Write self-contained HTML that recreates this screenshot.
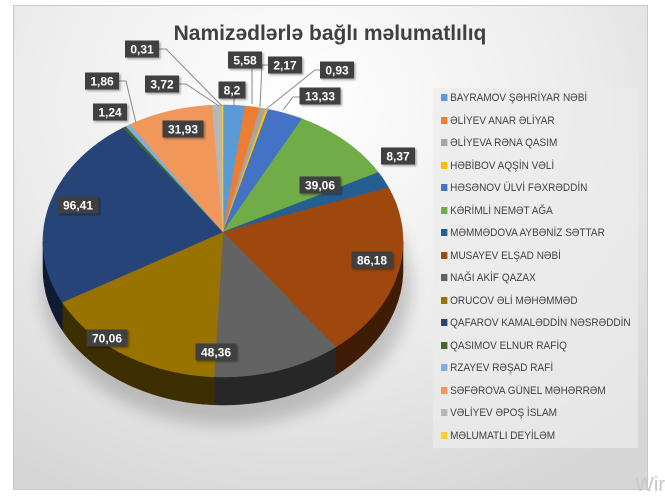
<!DOCTYPE html>
<html><head><meta charset="utf-8">
<style>
html,body{margin:0;padding:0;background:#fff;}
body{width:665px;height:498px;overflow:hidden;position:relative;font-family:"Liberation Sans",sans-serif;}
#chart{position:absolute;left:13px;top:5px;width:635px;height:485px;border:1px solid #c8c8c8;box-sizing:border-box;
background:radial-gradient(ellipse 80% 90% at 45% 20%,#ffffff 0%,#ececec 55%,#d6d6d6 100%);}
#legend{position:absolute;left:433px;top:88px;width:205px;height:360px;background:rgba(235,235,235,0.75);}
.li{position:absolute;left:8px;font-size:11px;color:#404040;white-space:nowrap;font-family:"Liberation Sans","DejaVu Sans",sans-serif;transform:scaleX(0.91);transform-origin:0 0;}
.li i{display:inline-block;width:7px;height:7px;margin-right:3px;vertical-align:0px;}
#wm{position:absolute;left:635px;top:474px;font-size:20px;color:#c8c8c8;}
</style></head><body>
<div id="chart"></div>
<svg id="svg" width="665" height="498" style="position:absolute;left:0;top:0">
<defs>
<filter id="blur"><feGaussianBlur stdDeviation="8"/></filter>
<filter id="sh" x="-20%" y="-20%" width="140%" height="140%"><feDropShadow dx="1.5" dy="1.5" stdDeviation="1" flood-color="#000" flood-opacity="0.35"/></filter>
</defs>
<ellipse cx="226" cy="285" rx="185" ry="140" fill="#000" opacity="0.18" filter="url(#blur)"/>
<g id="pie"></g>
<g id="lines" stroke="#8a8a8a" stroke-width="1" fill="none">
<polyline points="158,49 166,49 222,106"/>
<polyline points="178,84 186,84 219,106"/>
<polyline points="118,81 126,81 136,123"/>
<polyline points="234,98 234,107"/>
<polyline points="252,68 252,104"/>
<polyline points="268,65 262,65 260,107"/>
<polyline points="322,70 315,70 265,110"/>
<polyline points="301,97 293,97 283,110"/>
</g>
<g id="labels"></g>
<text x="330" y="40" text-anchor="middle" font-family="Liberation Sans, sans-serif" font-weight="bold" font-size="21" fill="#404040">Namizədlərlə bağlı məlumatlılıq</text>
</svg>
<div id="legend"></div>
<div id="wm">Wir</div>
<script>
var data=[["BAYRAMOV ŞƏHRİYAR NƏBİ",8.2,"#5B9BD5"],["ƏLİYEV ANAR ƏLİYAR",5.58,"#ED7D31"],["ƏLİYEVA RƏNA QASIM",2.17,"#A5A5A5"],["HƏBİBOV AQŞİN VƏLİ",0.93,"#FFC000"],["HƏSƏNOV ÜLVİ FƏXRƏDDİN",13.33,"#4472C4"],["KƏRİMLİ NEMƏT AĞA",39.06,"#70AD47"],["MƏMMƏDOVA AYBƏNİZ SƏTTAR",8.37,"#255E91"],["MUSAYEV ELŞAD NƏBİ",86.18,"#9E480E"],["NAĞI AKİF QAZAX",48.36,"#636363"],["ORUCOV ƏLİ MƏHƏMMƏD",70.06,"#997300"],["QAFAROV KAMALƏDDİN NƏSRƏDDİN",96.41,"#264478"],["QASIMOV ELNUR RAFİQ",1.24,"#43682B"],["RZAYEV RƏŞAD RAFİ",1.86,"#7CAFDD"],["SƏFƏROVA GÜNEL MƏHƏRRƏM",31.93,"#F1975A"],["VƏLİYEV ƏPOŞ İSLAM",3.72,"#B7B7B7"],["MƏLUMATLI DEYİLƏM",0.31,"#FFCD33"]];
var cx=223,cy=241,rx=180,ry=136,ax=223,ay=232,D=28;
var tot=0;data.forEach(function(d){tot+=d[1];});
function P(t){var r=t*Math.PI/180;return [cx+rx*Math.sin(r),cy-ry*Math.cos(r)];}
function dark(h,f){var n=parseInt(h.slice(1),16);var r=(n>>16)*f,g=((n>>8)&255)*f,b=(n&255)*f;return "rgb("+(r|0)+","+(g|0)+","+(b|0)+")";}
function arc(a1,a2,dy){var s="";for(var t=a1;t<=a2;t+=1){var p=P(t);s+=" L"+p[0].toFixed(1)+","+(p[1]+dy).toFixed(1);}var p=P(a2);s+=" L"+p[0].toFixed(1)+","+(p[1]+dy).toFixed(1);return s;}
function arcR(a1,a2,dy){var s="";var p=P(a2);s+=" L"+p[0].toFixed(1)+","+(p[1]+dy).toFixed(1);for(var t=a2;t>=a1;t-=1){p=P(t);s+=" L"+p[0].toFixed(1)+","+(p[1]+dy).toFixed(1);}p=P(a1);s+=" L"+p[0].toFixed(1)+","+(p[1]+dy).toFixed(1);return s;}
var sides="",tops="",c=0;
data.forEach(function(d){var a1=c/tot*360;c+=d[1];var a2=c/tot*360;
 var b1=Math.max(a1,90),b2=Math.min(a2,270);
 if(b2>b1){var p=P(b1);var path="M"+p[0]+","+p[1]+arc(b1,b2,0)+arcR(b1,b2,D)+"Z";
  sides+='<path d="'+path+'" fill="'+dark(d[2],0.4)+'" stroke="'+dark(d[2],0.4)+'" stroke-width="0.5"/>';}
 var p1=P(a1);var path="M"+ax+","+ay+" L"+p1[0]+","+p1[1]+arc(a1,a2,0)+"Z";
 tops+='<path d="'+path+'" fill="'+d[2]+'" stroke="'+d[2]+'" stroke-width="0.5"/>';
});
document.getElementById("pie").innerHTML=sides+tops;
var labs=[["0,31",142,49],["5,58",245,60],["2,17",285,65],["0,93",337,70],["8,2",232,90],["3,72",162,84],["1,86",102,81],["1,24",110,112],["13,33",320,96],["31,93",183,129],["39,06",320,185],["8,37",398,156],["96,41",78,205],["86,18",372,260],["70,06",107,338],["48,36",216,352]];
var s="";labs.forEach(function(l){var w=l[0].length*7+6;s+='<g filter="url(#sh)"><rect x="'+(l[1]-w/2)+'" y="'+(l[2]-8.5)+'" width="'+w+'" height="17" fill="#404040"/></g><text x="'+l[1]+'" y="'+(l[2]+4.5)+'" text-anchor="middle" font-family="Liberation Sans, sans-serif" font-weight="bold" font-size="12" fill="#fff">'+l[0]+'</text>';});
document.getElementById("labels").innerHTML=s;
var lg="";data.forEach(function(d,i){lg+='<div class="li" style="top:'+(4+i*22.5)+'px"><i style="background:'+d[2]+'"></i>'+d[0]+'</div>';});
document.getElementById("legend").innerHTML=lg;
</script>
</body></html>
